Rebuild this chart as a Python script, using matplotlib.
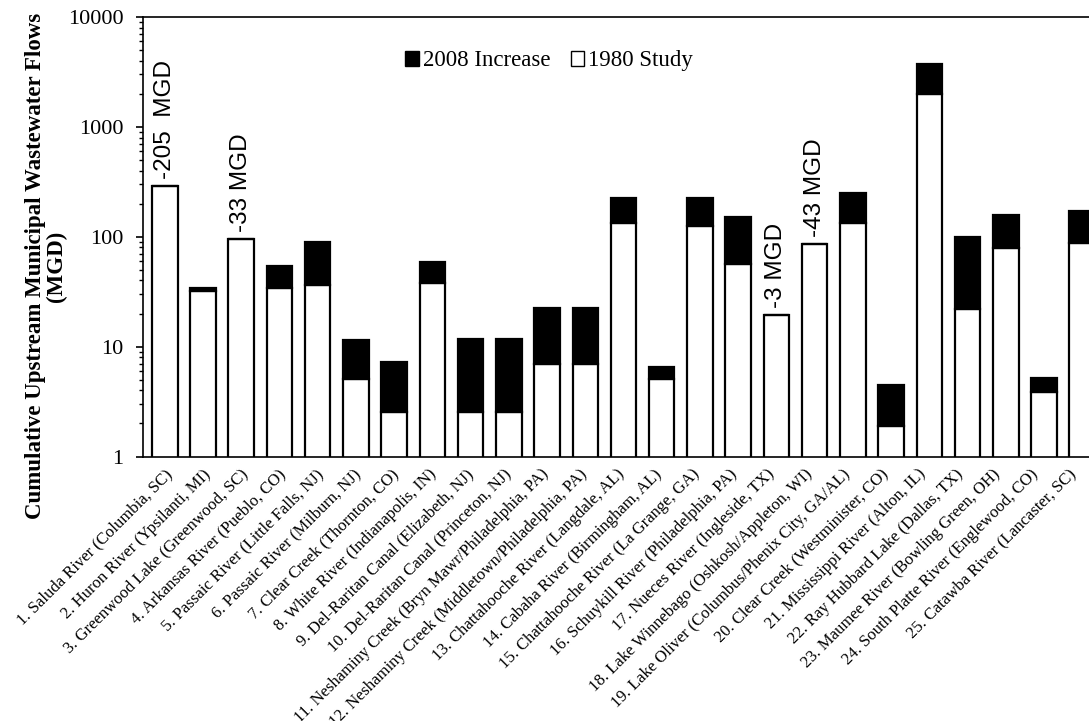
import matplotlib
matplotlib.use("Agg")
import matplotlib.pyplot as plt
from matplotlib.patches import Patch
from matplotlib.ticker import LogLocator, FixedLocator, NullFormatter
from matplotlib.transforms import ScaledTranslation
import numpy as np

categories = [
    "1. Saluda River (Columbia, SC)",
    "2. Huron River (Ypsilanti, MI)",
    "3. Greenwood Lake (Greenwood, SC)",
    "4. Arkansas River (Pueblo, CO)",
    "5. Passaic River (Little Falls, NJ)",
    "6. Passaic River (Milburn, NJ)",
    "7. Clear Creek (Thornton, CO)",
    "8. White River (Indianapolis, IN)",
    "9. Del-Raritan Canal (Elizabeth, NJ)",
    "10. Del-Raritan Canal (Princeton, NJ)",
    "11. Neshaminy Creek (Bryn Mawr/Philadelphia, PA)",
    "12. Neshaminy Creek (Middletown/Philadelphia, PA)",
    "13. Chattahooche River (Langdale, AL)",
    "14. Cabaha River (Birmingham, AL)",
    "15. Chattahooche River (La Grange, GA)",
    "16. Schuykill River (Philadelphia, PA)",
    "17. Nueces River (Ingleside, TX)",
    "18. Lake Winnebago (Oshkosh/Appleton, WI)",
    "19. Lake Oliver (Columbus/Phenix City, GA/AL)",
    "20. Clear Creek (Westminister, CO)",
    "21. Mississippi River (Alton, IL)",
    "22. Ray Hubbard Lake (Dallas, TX)",
    "23. Maumee River (Bowling Green, OH)",
    "24. South Platte River (Englewood, CO)",
    "25. Catawba River (Lancaster, SC)",
]

study_1980 = [290, 32, 96, 34, 36.5, 5.1, 2.53, 37.8, 2.53, 2.53, 7.0, 7.0, 134,
              5.05, 124, 56.6, 19.4, 86, 133, 1.9, 2000, 22.1, 79, 3.83, 87]
increase_2008 = [0, 2.3, 0, 20, 52.5, 6.5, 4.7, 21.6, 9.1, 9.1, 15.4, 15.4, 91,
                 1.5, 101, 94, 0, 0, 117, 2.6, 1750, 78, 79, 1.3, 86]
decrease_labels = {0: "-205  MGD", 2: "-33 MGD", 16: "-3 MGD", 17: "-43 MGD"}

ytick_values = [1, 10, 100, 1000, 10000]
ytick_labels = ["1", "10", "100", "1000", "10000"]

serif = ["Liberation Serif", "DejaVu Serif"]
sans = ["Liberation Sans", "DejaVu Sans"]

fig = plt.figure(figsize=(10.89, 7.21), dpi=100)
ax = fig.add_axes([143 / 1089, 1 - 456.5 / 721, (1104 - 143) / 1089, (456.5 - 17) / 721])

x = np.arange(len(categories))
w = 0.667
ax.bar(x, study_1980, width=w, color="white", edgecolor="black", linewidth=1.6,
       zorder=2)
ax.bar(x, increase_2008, width=w, bottom=study_1980, color="black",
       edgecolor="black", linewidth=1.6, zorder=2)

ax.set_yscale("log")
ax.set_ylim(1, 10000)
ax.set_xlim(-0.57, len(categories) - 1 + 0.57)
ax.yaxis.set_major_locator(FixedLocator(ytick_values))
ax.set_yticklabels(ytick_labels, fontfamily=serif, fontsize=16)
ax.yaxis.set_minor_locator(LogLocator(base=10, subs=np.arange(2, 10)))
ax.yaxis.set_minor_formatter(NullFormatter())
ax.tick_params(axis="y", which="major", direction="out", length=5, width=1.2, pad=9)
ax.tick_params(axis="y", which="minor", direction="out", length=3, width=1.0)

ax.set_xticks(x)
ax.set_xticklabels(categories, rotation=45, ha="right", rotation_mode="anchor",
                   fontfamily=serif, fontsize=12)
ax.tick_params(axis="x", length=0, pad=7)
for i, lab in enumerate(ax.get_xticklabels()):
    lab.set_transform(lab.get_transform() +
                      ScaledTranslation(-0.006 * i, 0, fig.dpi_scale_trans))

for s in ["left", "bottom", "top", "right"]:
    ax.spines[s].set_linewidth(1.2)

ax.set_ylabel("Cumulative Upstream Municipal Wastewater Flows\n(MGD)",
              fontfamily=serif, fontsize=16.5, fontweight="bold", linespacing=1.0)
ax.yaxis.set_label_coords(-0.079, 0.433)

for i, txt in decrease_labels.items():
    top = study_1980[i] + increase_2008[i]
    ax.annotate(txt, xy=(x[i], top), xytext=(0, 5), textcoords="offset points",
                rotation=90, ha="center", va="bottom", fontfamily=sans,
                fontsize=17.5)

handles = [Patch(facecolor="black", edgecolor="black", label="2008 Increase"),
           Patch(facecolor="white", edgecolor="black", label="1980 Study")]
ax.legend(handles=handles, loc="center", bbox_to_anchor=(0.4225, 0.90), ncol=2,
          frameon=False, prop={"family": serif, "size": 16.5}, handlelength=0.6,
          handleheight=0.6, handletextpad=0.15, columnspacing=0.9)

fig.savefig("out.png", dpi=100)
